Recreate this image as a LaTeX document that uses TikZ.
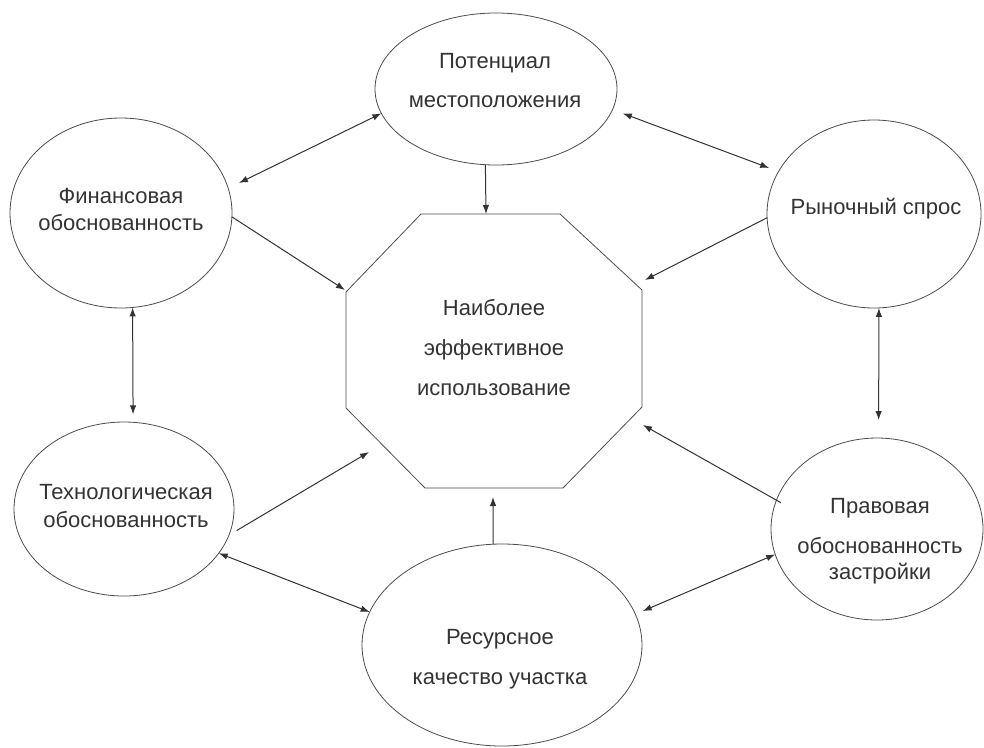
\documentclass[tikz,border=0pt]{standalone}
\usepackage{fontspec}
\setmainfont{Liberation Sans}
\usetikzlibrary{arrows.meta,shapes.geometric}
\begin{document}
\begin{tikzpicture}[x=1pt,y=-1pt,
  ell/.style={ellipse,draw=black!70,line width=0.8pt,inner sep=0pt,outer sep=0pt},
  txt/.style={font=\fontsize{22}{26}\selectfont,text=black!80,anchor=base,inner sep=0pt},
  con/.style={draw=black!80,line width=1pt},
  arr/.style={con,-{Latex[length=9pt,width=6.5pt]}},
  arrb/.style={con,{Latex[length=9pt,width=6.5pt]}-{Latex[length=9pt,width=6.5pt]}}]
\useasboundingbox[fill=white] (0,0) rectangle (984,747);
% ellipses
\node[ell,minimum width=242pt,minimum height=152pt] (T) at (496,89) {};
\node[ell,minimum width=222pt,minimum height=190pt] (F) at (121,213) {};
\node[ell,minimum width=214pt,minimum height=188pt] (M) at (874,214) {};
\node[ell,minimum width=220pt,minimum height=174pt] (Te) at (124,509) {};
\node[ell,minimum width=212pt,minimum height=182pt] (L) at (877,529) {};
\node[ell,minimum width=280pt,minimum height=202pt] (R) at (502,645) {};
% octagon
\node[draw=none,minimum width=296pt,minimum height=274pt,inner sep=0pt,outer sep=0pt] (oct) at (494,351) {};
\draw[draw=black!70,line width=0.8pt]
  ([xshift=75pt]oct.north west) -- ([xshift=-82pt]oct.north east)
  -- ([yshift=-76pt]oct.north east) -- ([yshift=81pt]oct.south east)
  -- ([xshift=-79pt]oct.south east) -- ([xshift=79pt]oct.south west)
  -- ([yshift=80pt]oct.south west) -- ([yshift=-78pt]oct.north west) -- cycle;
% arrow ends at the octagon
\coordinate (oT) at (486,214);
\coordinate (oF) at (345,290);
\coordinate (oM) at (645,280);
\coordinate (oTe) at (369,452);
\coordinate (oL) at (643,425);
\coordinate (oR) at (493,497);
% texts
\node[txt] (Tt1) at (495,68) {Потенциал};
\node[txt] (Tt2) at (495,107) {местоположения};
\node[txt] (Ft1) at (121,203) {Финансовая};
\node[txt] (Ft2) at (121,230) {обоснованность};
\node[txt] (Mt) at (876,214) {Рыночный спрос};
\node[txt] (Ot1) at (494,315) {Наиболее};
\node[txt] (Ot2) at (494,355) {эффективное};
\node[txt] (Ot3) at (494,395) {использование};
\node[txt] (Tet1) at (126,499) {Технологическая};
\node[txt] (Tet2) at (126,527) {обоснованность};
\node[txt] (Lt1) at (880,513) {Правовая};
\node[txt] (Lt2) at (880,553) {обоснованность};
\node[txt] (Lt3) at (880,579) {застройки};
\node[txt] (Rt1) at (500,644) {Ресурсное};
\node[txt] (Rt2) at (500,684) {качество участка};
% connectors
\draw[arrb,shorten >=12pt] (T.192) -- (F.13);
\draw[arrb,shorten <=11pt,shorten >=10pt] (T.-10) -- (M.156);
\draw[arr] (T.262) -- (oT);
\draw[arr] (F.-2) -- (oF);
\draw[arr] (M.182) -- (oM);
\draw[arrb,shorten >=8pt] (F.-83) -- (Te.84);
\draw[arrb,shorten >=18pt] (M.-87) -- (L.89);
\draw[arr,shorten <=9pt] (Te.-14) -- (oTe);
\draw[arr,shorten <=-5pt] (L.164) -- (oL);
\draw[arr] (R.95) -- (oR);
\draw[arrb] (Te.-25) -- (R.166);
\draw[arrb,shorten <=8pt] (R.13) -- (L.194);
\end{tikzpicture}
\end{document}
